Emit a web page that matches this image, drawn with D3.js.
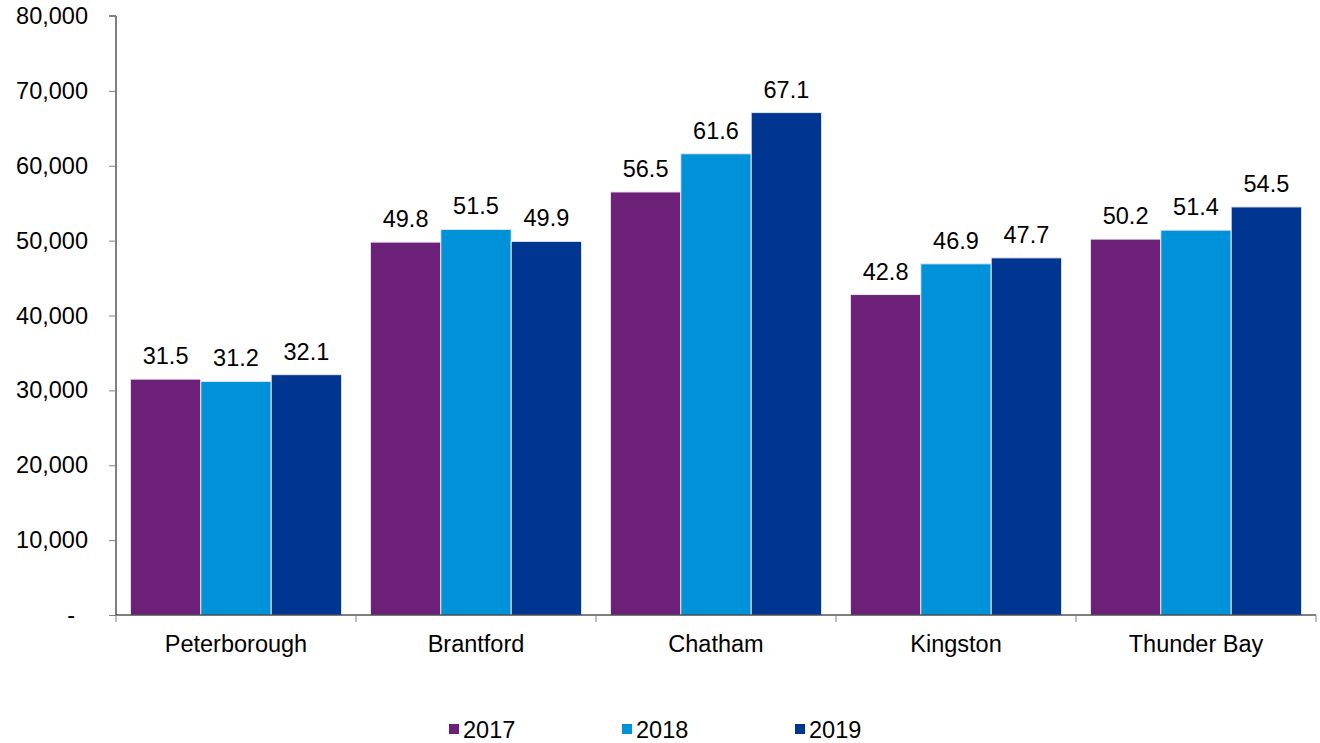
<!DOCTYPE html>
<html>
<head>
<meta charset="utf-8">
<script src="https://cdn.jsdelivr.net/npm/d3@7"></script>
<style>
  html, body { margin: 0; padding: 0; background: #fff; }
  svg { display: block; font-family: "Liberation Sans", Arial, sans-serif; }
</style>
</head>
<body>
<svg id="chart" width="1320" height="743"></svg>
<script>
// Cities and yearly values (thousands)
const cities = ["Peterborough", "Brantford", "Chatham", "Kingston", "Thunder Bay"];
const years = ["2017", "2018", "2019"];
const values2017 = [31.5, 49.8, 56.5, 42.8, 50.2];
const values2018 = [31.2, 51.5, 61.6, 46.9, 51.4];
const values2019 = [32.1, 49.9, 67.1, 47.7, 54.5];
const yTicks = [0, 10000, 20000, 30000, 40000, 50000, 60000, 70000, 80000];
const colors = ["#6C2077", "#0092D9", "#003591"];

const seriesValues = [values2017, values2018, values2019];
const FS = 23.5;

const svg = d3.select("#chart");
const margin = { left: 116, right: 4, top: 16, bottom: 128 };
const width = 1320, height = 743;
const plotBottom = height - margin.bottom; // 615
const plotRight = 1316;

const x0 = d3.scaleBand()
  .domain(cities)
  .range([margin.left, plotRight])
  .paddingInner(0.12)
  .paddingOuter(0.06);

const x1 = d3.scaleBand()
  .domain(years)
  .range([0, x0.bandwidth()])
  .padding(0);

const y = d3.scaleLinear()
  .domain([0, 80000])
  .range([plotBottom, margin.top]);

// Bars
const groups = svg.append("g")
  .selectAll("g")
  .data(cities)
  .join("g")
  .attr("transform", d => `translate(${x0(d)},0)`);

const cells = (c, i) => years.map((yr, j) => ({ yr, j, v: seriesValues[j][i] }));

groups.selectAll("rect")
  .data(cells)
  .join("rect")
  .attr("x", d => x1(d.yr))
  .attr("y", d => y(d.v * 1000))
  .attr("width", x1.bandwidth())
  .attr("height", d => plotBottom - y(d.v * 1000))
  .attr("fill", d => colors[d.j])
  .attr("stroke", "#e8e8f0")
  .attr("stroke-width", 1);

// Value labels
groups.selectAll("text")
  .data(cells)
  .join("text")
  .attr("x", d => x1(d.yr) + x1.bandwidth() / 2)
  .attr("y", d => y(d.v * 1000) - 15)
  .attr("text-anchor", "middle")
  .attr("font-size", FS)
  .attr("fill", "#000")
  .text(d => d.v.toFixed(1));

// Y axis
const yAxis = d3.axisLeft(y)
  .tickValues(yTicks)
  .tickSize(7)
  .tickPadding(21)
  .tickFormat(d => d === 0 ? "-" : d3.format(",")(d));

const gy = svg.append("g")
  .attr("transform", `translate(${margin.left},0)`)
  .call(yAxis);
gy.select(".domain").attr("stroke", "#000").attr("d", `M-7,${y(80000)}H0V${plotBottom}`);
gy.selectAll(".tick line").attr("stroke", "#808080");
gy.selectAll(".tick text").attr("font-size", FS).attr("fill", "#000")
  .attr("font-family", "Liberation Sans, Arial, sans-serif")
  .attr("dx", d => d === 0 ? -13 : 0);

// X axis with tick marks at category boundaries
const gx = svg.append("g").attr("transform", `translate(0,${plotBottom})`);
gx.append("line")
  .attr("x1", margin.left).attr("x2", plotRight)
  .attr("y1", 0).attr("y2", 0)
  .attr("stroke", "#000");
const boundaries = d3.range(cities.length + 1)
  .map(i => margin.left + i * (plotRight - margin.left) / cities.length);
gx.selectAll("line.tk")
  .data(boundaries)
  .join("line")
  .attr("class", "tk")
  .attr("x1", d => d).attr("x2", d => d)
  .attr("y1", 0).attr("y2", 7)
  .attr("stroke", "#808080");
gx.selectAll("text")
  .data(cities)
  .join("text")
  .attr("x", d => x0(d) + x0.bandwidth() / 2)
  .attr("y", 37)
  .attr("text-anchor", "middle")
  .attr("font-size", FS)
  .attr("fill", "#000")
  .text(d => d);

// Legend
const legendX = [449, 622, 795];
const legend = svg.append("g").selectAll("g")
  .data(years)
  .join("g")
  .attr("transform", (d, i) => `translate(${legendX[i]},${724})`);
legend.append("rect")
  .attr("x", 0).attr("y", 0)
  .attr("width", 10).attr("height", 10)
  .attr("fill", (d, i) => colors[i]);
legend.append("text")
  .attr("x", 14).attr("y", 13.5)
  .attr("font-size", FS)
  .attr("fill", "#000")
  .text(d => d);
</script>
</body>
</html>
